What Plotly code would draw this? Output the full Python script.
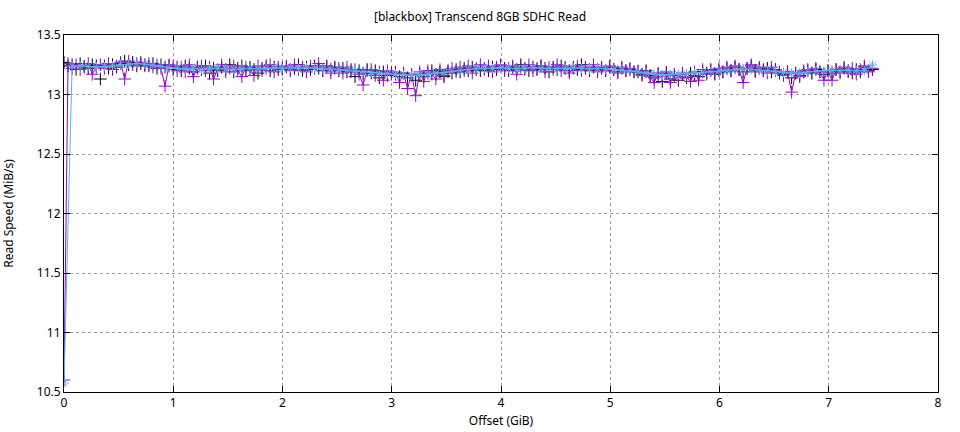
import plotly.graph_objects as go

title_text = "[blackbox] Transcend 8GB SDHC Read"
x_label = "Offset (GiB)"
y_label = "Read Speed (MiB/s)"

x_ticks = [0, 1, 2, 3, 4, 5, 6, 7, 8]
y_ticks = [10.5, 11, 11.5, 12, 12.5, 13, 13.5]
y_tick_text = ["10.5", "11", "11.5", "12", "12.5", "13", "13.5"]

# sample grid (GiB): fine run every 0.037 GiB, averaged run every 0.074 GiB
fine_step = 0.037
avg_step = 0.074

run_black = [
    13.27,
    13.24, 13.25, 13.21, 13.26, 13.23, 13.22, 13.25, 13.24,
    13.13, 13.24, 13.22, 13.25, 13.23,
    13.26, 13.28, 13.25, 13.27, 13.24, 13.26, 13.25,
    13.24, 13.26, 13.22, 13.25, 13.23, 13.24,
    13.21, 13.23, 13.20, 13.24, 13.22, 13.19, 13.23, 13.21, 13.24, 13.18, 13.22, 13.20, 13.23, 13.21,
    13.25, 13.19, 13.22, 13.24, 13.20, 13.23, 13.21, 13.18, 13.22, 13.24, 13.20, 13.23, 13.21, 13.22,
    13.23, 13.21, 13.22, 13.25, 13.20, 13.23, 13.21, 13.24, 13.22, 13.20, 13.24, 13.21, 13.23,
    13.20, 13.22, 13.19, 13.21, 13.15, 13.20, 13.18, 13.21,
    13.18, 13.20, 13.14, 13.19, 13.16, 13.18,
    13.17, 13.15, 13.18, 13.14, 13.16, 13.12, 13.17, 13.15,
    13.18, 13.20, 13.17, 13.19, 13.15, 13.20, 13.18,
    13.21, 13.19, 13.22, 13.20, 13.23, 13.21, 13.20,
    13.22, 13.20, 13.23, 13.21, 13.24, 13.22, 13.20, 13.23, 13.21, 13.25, 13.22, 13.20, 13.23, 13.21,
    13.24, 13.22, 13.19, 13.23, 13.21, 13.24, 13.22, 13.20, 13.23, 13.21, 13.25, 13.22, 13.20, 13.23, 13.21,
    13.22, 13.20, 13.23, 13.21, 13.19, 13.22, 13.20, 13.21, 13.19,
    13.19, 13.17, 13.20, 13.16,
    13.14, 13.17, 13.11, 13.18, 13.13, 13.16, 13.12,
    13.17, 13.14, 13.18, 13.16, 13.15,
    13.19, 13.18, 13.21, 13.17, 13.20, 13.19,
    13.22, 13.20, 13.23, 13.21, 13.19, 13.22, 13.24, 13.20, 13.22,
    13.20, 13.22, 13.19, 13.21, 13.18,
    13.17, 13.19, 13.14, 13.18, 13.16, 13.19,
    13.20, 13.18, 13.21, 13.19, 13.17, 13.20,
    13.18, 13.21, 13.19, 13.22, 13.20, 13.18, 13.21, 13.19, 13.23, 13.20, 13.21,
]

run_purple = [
    10.60,
    13.26, 13.22, 13.25, 13.21, 13.24, 13.26, 13.17, 13.23,
    13.25, 13.22, 13.26, 13.21, 13.24,
    13.27, 13.13, 13.28, 13.25, 13.26, 13.27, 13.24,
    13.26, 13.23, 13.25, 13.22, 13.07, 13.25,
    13.24, 13.20, 13.23, 13.19, 13.25, 13.15, 13.22, 13.24, 13.20, 13.23, 13.13, 13.21, 13.25, 13.19,
    13.22, 13.24, 13.20, 13.15, 13.23, 13.21, 13.16, 13.24, 13.20, 13.22, 13.25, 13.19, 13.23, 13.21,
    13.24, 13.20, 13.25, 13.21, 13.23, 13.19, 13.24, 13.22, 13.26, 13.20, 13.23, 13.18, 13.22,
    13.22, 13.18, 13.23, 13.19, 13.21, 13.17, 13.08, 13.20,
    13.21, 13.16, 13.19, 13.12, 13.20, 13.17,
    13.19, 13.10, 13.18, 13.05, 13.17, 12.99, 13.19, 13.11,
    13.20, 13.17, 13.13, 13.21, 13.16, 13.19, 13.22,
    13.19, 13.23, 13.20, 13.24, 13.18, 13.22, 13.25,
    13.21, 13.24, 13.19, 13.23, 13.25, 13.20, 13.22, 13.24, 13.17, 13.23, 13.21, 13.25, 13.20, 13.22,
    13.24, 13.19, 13.23, 13.21, 13.25, 13.20, 13.23, 13.18, 13.22, 13.24, 13.20, 13.23, 13.21, 13.25, 13.19,
    13.23, 13.20, 13.24, 13.21, 13.18, 13.23, 13.20, 13.22, 13.19,
    13.20, 13.16, 13.19, 13.15,
    13.10, 13.18, 13.15, 13.19, 13.10, 13.17, 13.14,
    13.18, 13.15, 13.11, 13.19, 13.12,
    13.21, 13.17, 13.20, 13.18, 13.22, 13.19,
    13.23, 13.20, 13.24, 13.21, 13.10, 13.22, 13.25, 13.19, 13.23,
    13.21, 13.18, 13.23, 13.20, 13.19,
    13.16, 13.19, 13.02, 13.18, 13.15, 13.20,
    13.21, 13.18, 13.22, 13.19, 13.12, 13.20,
    13.12, 13.21, 13.18, 13.23, 13.19, 13.22, 13.17, 13.21, 13.24, 13.19, 13.22,
]

run_average = [
    10.576,
    13.24,
    13.24, 13.235, 13.23,
    13.235, 13.24, 13.25,
    13.255, 13.26, 13.255,
    13.245, 13.235, 13.225,
    13.22, 13.215, 13.22, 13.21, 13.215, 13.22, 13.215, 13.21, 13.215, 13.22, 13.215, 13.22, 13.225, 13.22,
    13.225, 13.22, 13.225, 13.22, 13.215, 13.215,
    13.21, 13.205, 13.2, 13.195,
    13.185, 13.18, 13.175,
    13.17, 13.165, 13.16, 13.165,
    13.17, 13.18, 13.185, 13.195,
    13.205, 13.21, 13.215,
    13.22, 13.22, 13.225, 13.22, 13.215, 13.22, 13.225, 13.22, 13.22, 13.215, 13.22, 13.225, 13.22, 13.215, 13.22,
    13.215, 13.21, 13.205, 13.2,
    13.19, 13.18, 13.17,
    13.165, 13.165, 13.17,
    13.175, 13.18, 13.185,
    13.19, 13.195, 13.2,
    13.21, 13.215, 13.21,
    13.205, 13.2, 13.195,
    13.185, 13.18, 13.18,
    13.19, 13.195, 13.2,
    13.205, 13.2, 13.205, 13.2, 13.2,
    13.248,
]

x_fine = [round(i * fine_step, 4) for i in range(len(run_purple))]
x_black = [round(i * fine_step, 4) for i in range(len(run_black))]
x_avg = [round(i * avg_step, 4) for i in range(len(run_average))]

fig = go.Figure()

fig.add_trace(go.Scatter(
    x=x_black, y=run_black, mode="markers",
    marker=dict(symbol="cross-thin-open", size=9, color="#000000",
                line=dict(color="#000000", width=1)),
    showlegend=False, hoverinfo="skip",
))
fig.add_trace(go.Scatter(
    x=x_fine, y=run_purple, mode="lines+markers",
    line=dict(color="#9400d3", width=1),
    marker=dict(symbol="cross-thin-open", size=9, color="#9400d3",
                line=dict(color="#9400d3", width=1)),
    showlegend=False, hoverinfo="skip",
))
fig.add_trace(go.Scatter(
    x=x_avg, y=run_average, mode="lines+markers",
    line=dict(color="#56b4e9", width=1),
    marker=dict(symbol="asterisk-open", size=8, color="#56b4e9",
                line=dict(color="#56b4e9", width=1)),
    showlegend=False, hoverinfo="skip",
))

axis_common = dict(
    showline=True, linecolor="#000000", linewidth=1, mirror="allticks",
    ticks="inside", ticklen=6, tickcolor="#000000", tickwidth=1,
    showgrid=True, gridcolor="#a0a0a0", gridwidth=1, griddash="dot",
    zeroline=False, automargin=False,
    tickfont=dict(family="Noto Sans", size=12, color="#000000"),
)

fig.update_xaxes(range=[0, 8], tickvals=x_ticks,
                 title=dict(text=x_label, font=dict(family="Noto Sans", size=12, color="#000000"), standoff=6),
                 **axis_common)
fig.update_yaxes(range=[10.5, 13.5], tickvals=y_ticks, ticktext=y_tick_text,
                 title=dict(text=y_label, font=dict(family="Noto Sans", size=12, color="#000000"), standoff=20),
                 **axis_common)

fig.update_layout(
    width=960, height=432,
    margin=dict(l=64, r=22, t=35, b=40),
    paper_bgcolor="#ffffff", plot_bgcolor="#ffffff",
    title=dict(text=title_text, x=0.5, xanchor="center", y=0.962, yanchor="middle",
               font=dict(family="Noto Sans", size=12, color="#000000")),
    font=dict(family="Noto Sans", size=12, color="#000000"),
)

fig.write_html("out.html", config={"displayModeBar": False},
               post_script="document.body.style.margin='0';")
